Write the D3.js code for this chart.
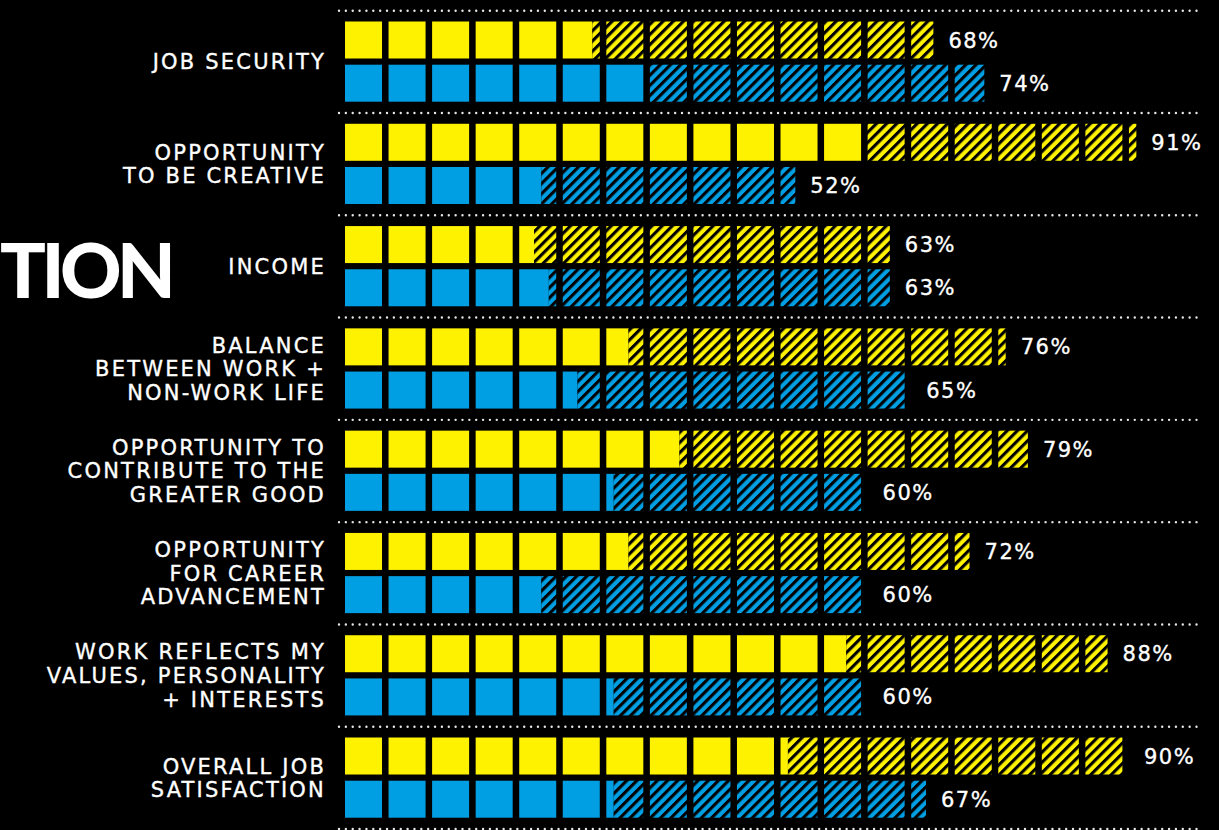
<!DOCTYPE html>
<html>
<head>
<meta charset="utf-8">
<script src="https://cdn.jsdelivr.net/npm/d3@7"></script>
<style>
  html, body { margin: 0; padding: 0; background: #000; }
  .label { fill: #fff; stroke: #fff; stroke-width: 0.35px; font-family: "DejaVu Sans", sans-serif; font-size: 21px; letter-spacing: 2.2px; }
  .value { fill: #fff; stroke: #fff; stroke-width: 0.35px; font-family: "DejaVu Sans", sans-serif; font-size: 21px; letter-spacing: 1.5px; }
  .big { fill: #fff; font-family: Lato, sans-serif; font-size: 76px; font-weight: 900; letter-spacing: -4.5px; }
</style>
</head>
<body>
<div id="chart"></div>
<script>

// categories, one label per group (lines split with |)
let categories = [
	"JOB SECURITY",
	"OPPORTUNITY|TO BE CREATIVE",
	"INCOME",
	"BALANCE|BETWEEN WORK +|NON-WORK LIFE",
	"OPPORTUNITY TO|CONTRIBUTE TO THE|GREATER GOOD",
	"OPPORTUNITY|FOR CAREER|ADVANCEMENT",
	"WORK REFLECTS MY|VALUES, PERSONALITY|+ INTERESTS",
	"OVERALL JOB|SATISFACTION"
];

// solid part and total (solid + hatched), in percent
let yellowSolid = [29, 60, 22, 33, 39, 33, 58, 51];
let yellowTotal = [68, 91, 63, 76, 79, 72, 88, 90];
let blueSolid = [35, 23, 24, 27, 31, 23, 31, 31];
let blueTotal = [74, 52, 63, 65, 60, 60, 60, 67];

let series = ["yellow", "blue"];
let squares = d3.range(20); // each square is 5%

let width = 1219, height = 830;

let colors = { yellow: "#fff200", blue: "#009fe3" };

let svg = d3.select("#chart")
	.append("svg")
	.attr("width", width)
	.attr("height", height)
	.style("display", "block");

svg.append("rect").attr("width", width).attr("height", height).attr("fill", "#000");

// hatch patterns
let defs = svg.append("defs");
series.forEach(function (s) {
	let p = defs.append("pattern")
		.attr("id", "hatch-" + s)
		.attr("patternUnits", "userSpaceOnUse")
		.attr("width", 7.2)
		.attr("height", 7.2)
		.attr("patternTransform", "rotate(45)");
	p.append("rect").attr("width", 7.2).attr("height", 7.2).attr("fill", colors[s]);
	p.append("rect").attr("width", 3.1).attr("height", 7.2).attr("fill", "#000");
});

// scales
let x = d3.scaleBand()
	.domain(squares)
	.range([345, 1209.5])
	.paddingInner(0.15)
	.paddingOuter(0);

let inSquare = d3.scaleLinear().domain([0, 5]).range([0, x.bandwidth()]);

let y = d3.scaleBand()
	.domain(categories)
	.range([10.7, 829])
	.padding(0);

let ySeries = d3.scaleBand()
	.domain(series)
	.range([10.8, 91])
	.paddingInner(0.1435)
	.paddingOuter(0);

// position of a value along the squares
function valueX(v) {
	let k = Math.min(Math.floor(v / 5), 19);
	return x(k) + inSquare(v - k * 5);
}

// big cut-off title
svg.append("text")
	.attr("class", "big")
	.attr("x", 0)
	.attr("y", 298)
	.text("TION");

// dotted separators
let seps = categories.map(function (c) { return y(c); }).concat([y(categories[categories.length - 1]) + y.bandwidth()]);
svg.selectAll(".sep")
	.data(seps)
	.enter()
	.append("line")
	.attr("class", "sep")
	.attr("x1", 339)
	.attr("x2", 1198)
	.attr("y1", function (d) { return d; })
	.attr("y2", function (d) { return d; })
	.attr("stroke", "#e6e6e6")
	.attr("stroke-width", 2.4)
	.attr("stroke-linecap", "round")
	.attr("stroke-dasharray", "0.01,6.85");

// build rows
let rows = [];
categories.forEach(function (c, i) {
	rows.push({ cat: c, s: "yellow", solid: yellowSolid[i], total: yellowTotal[i] });
	rows.push({ cat: c, s: "blue", solid: blueSolid[i], total: blueTotal[i] });
});

rows.forEach(function (r) {
	let top = y(r.cat) + ySeries(r.s);
	let h = ySeries.bandwidth();
	let xs = valueX(r.solid), xt = valueX(r.total);
	let g = svg.append("g");

	squares.forEach(function (i) {
		let a = x(i), b = x(i) + x.bandwidth();
		// solid piece
		let s1 = Math.min(b, xs);
		if (s1 > a) {
			g.append("rect").attr("x", a).attr("y", top).attr("width", s1 - a).attr("height", h)
				.attr("fill", colors[r.s]);
		}
		// hatched piece
		let h0 = Math.max(a, xs), h1 = Math.min(b, xt);
		if (h1 > h0) {
			g.append("rect").attr("x", h0).attr("y", top).attr("width", h1 - h0).attr("height", h)
				.attr("fill", "url(#hatch-" + r.s + ")");
		}
	});

	g.append("text")
		.attr("class", "value")
		.attr("x", xt + 15)
		.attr("y", top + h / 2 + 7.5)
		.text(r.total + "%");
});

// category labels, right aligned, centred on each group
categories.forEach(function (c) {
	let lines = c.split("|");
	let cy = y(c) + y.bandwidth() / 2;
	let lh = 23.7;
	let t = svg.append("text")
		.attr("class", "label")
		.attr("text-anchor", "end");
	lines.forEach(function (l, j) {
		t.append("tspan")
			.attr("x", 326)
			.attr("y", cy + 7.5 + (j - (lines.length - 1) / 2) * lh)
			.text(l);
	});
});

</script>
</body>
</html>
